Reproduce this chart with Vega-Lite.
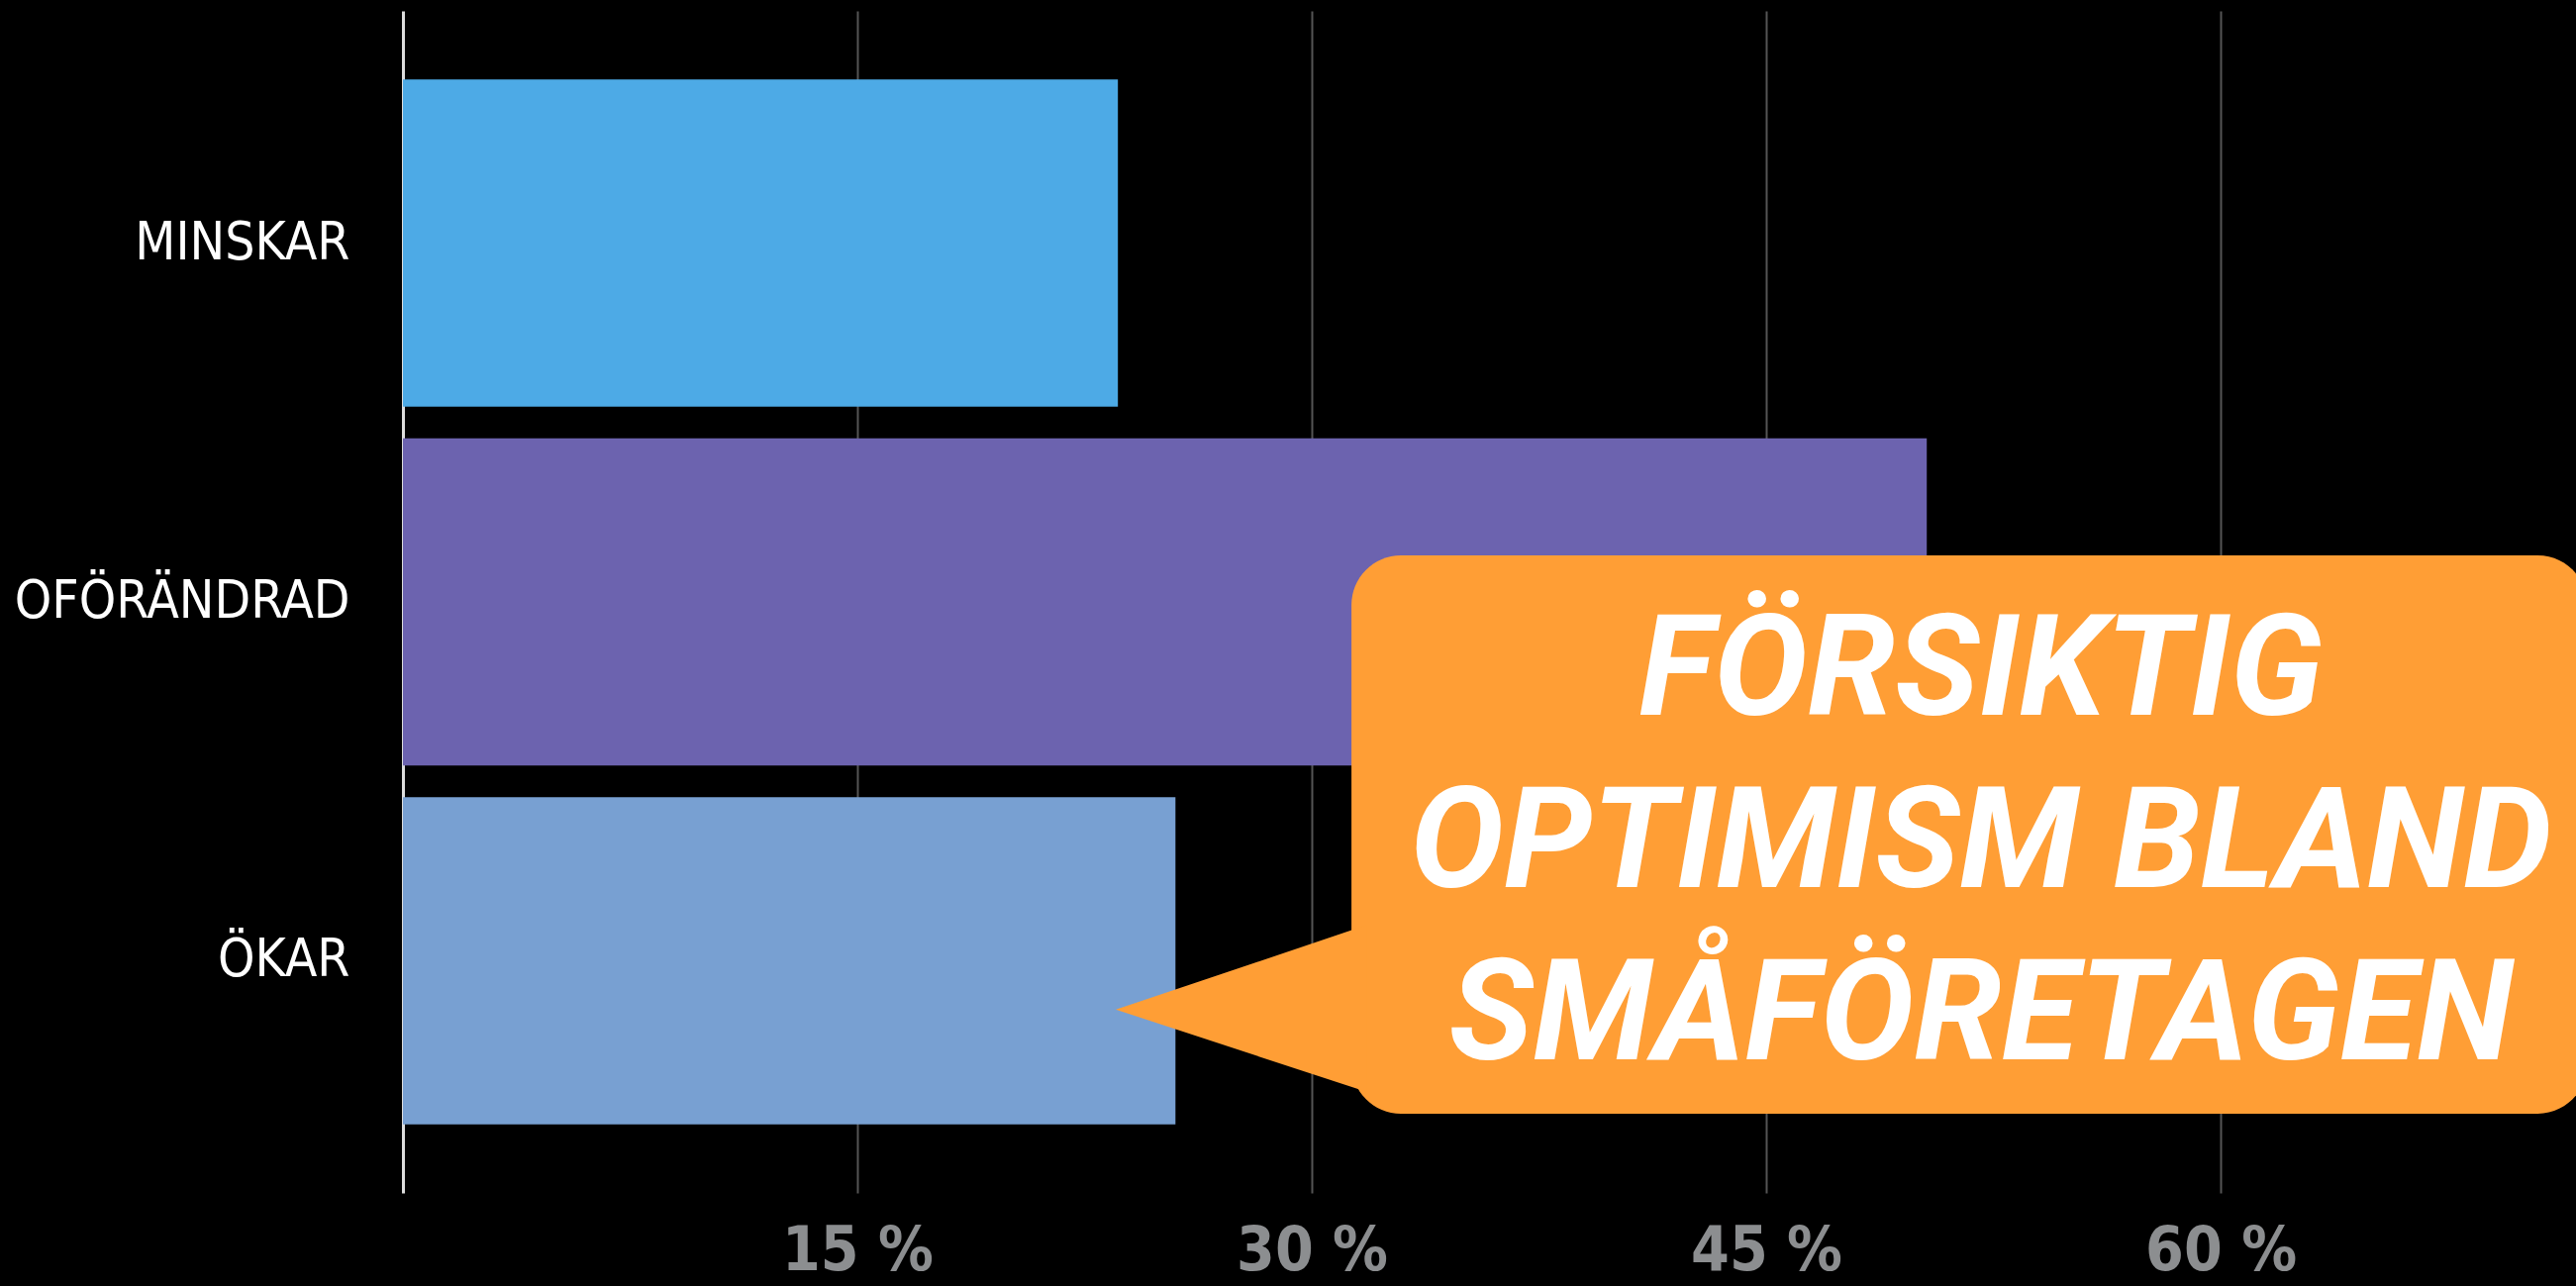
{
  "$schema": "https://vega.github.io/schema/vega-lite/v6.json",
  "width": 2195,
  "height": 1194,
  "autosize": {"type": "none"},
  "padding": {"left": 407, "top": 11, "right": 0, "bottom": 94},
  "background": "#000000",
  "config": {"view": {"stroke": null}},
  "layer": [
    {
      "data": {"values": [
        {"svar": "MINSKAR", "andel": 23.6},
        {"svar": "OFÖRÄNDRAD", "andel": 50.3},
        {"svar": "ÖKAR", "andel": 25.5}
      ]},
      "mark": {"type": "bar"},
      "encoding": {
        "y": {
          "field": "svar", "type": "nominal", "sort": null,
          "scale": {"paddingInner": 0.088, "paddingOuter": 0.191},
          "axis": {
            "title": null, "ticks": false, "domain": true, "domainColor": "#dddddd", "domainWidth": 3,
            "labelFont": "DejaVu Sans Condensed, Liberation Sans Narrow, Roboto, sans-serif", "labelFontSize": 53, "labelColor": "#ffffff",
            "labelPadding": 54, "labelLimit": 0
          }
        },
        "x": {
          "field": "andel", "type": "quantitative",
          "scale": {"domain": [0, 71.73], "nice": false},
          "axis": {
            "title": null, "values": [15, 30, 45, 60], "labelExpr": "datum.value + ' %'",
            "grid": true, "gridColor": "#555555", "gridWidth": 2,
            "domain": false, "ticks": false,
            "labelFont": "DejaVu Sans Condensed, Liberation Sans Narrow, Roboto, sans-serif", "labelFontWeight": "bold", "labelFontSize": 62,
            "labelColor": "#8c8e90", "labelPadding": 28
          }
        },
        "color": {
          "field": "svar", "type": "nominal",
          "scale": {"domain": ["MINSKAR", "OFÖRÄNDRAD", "ÖKAR"], "range": ["#4daae6", "#6c63af", "#78a0d2"]},
          "legend": null
        }
      }
    },
    {
      "layer": [
        {
          "data": {"values": [{"del": "ruta"}]},
          "mark": {"type": "bar", "color": "#ff9e35", "cornerRadius": 50, "clip": true},
          "encoding": {
            "x": {"datum": 31.31, "type": "quantitative"},
            "x2": {"datum": 72.1},
            "y": {"datum": 1.871, "type": "quantitative", "scale": {"domain": [0.354, 3.648], "reverse": true, "nice": false, "zero": false}, "axis": null},
            "y2": {"datum": 3.427}
          }
        },
        {
          "data": {"values": [
            {"px": 23.53, "py": 3.137, "py2": 3.137},
            {"px": 31.8, "py": 2.902, "py2": 3.366}
          ]},
          "mark": {"type": "area", "color": "#ff9e35", "orient": "vertical"},
          "encoding": {
            "x": {"field": "px", "type": "quantitative"},
            "y": {"field": "py", "type": "quantitative", "axis": null},
            "y2": {"field": "py2"}
          }
        },
        {
          "data": {"values": [{"del": "rubrik"}]},
          "mark": {
            "type": "text", "text": ["FÖRSIKTIG", "OPTIMISM BLAND", "SMÅFÖRETAGEN"],
            "font": "Roboto", "fontWeight": "bold", "fontStyle": "italic", "fontSize": 142,
            "lineHeight": 174, "align": "center", "baseline": "alphabetic", "color": "#ffffff"
          },
          "encoding": {
            "x": {"datum": 52.09, "type": "quantitative"},
            "y": {"datum": 2.315, "type": "quantitative", "axis": null}
          }
        }
      ]
    }
  ],
  "resolve": {"scale": {"y": "independent"}}
}
